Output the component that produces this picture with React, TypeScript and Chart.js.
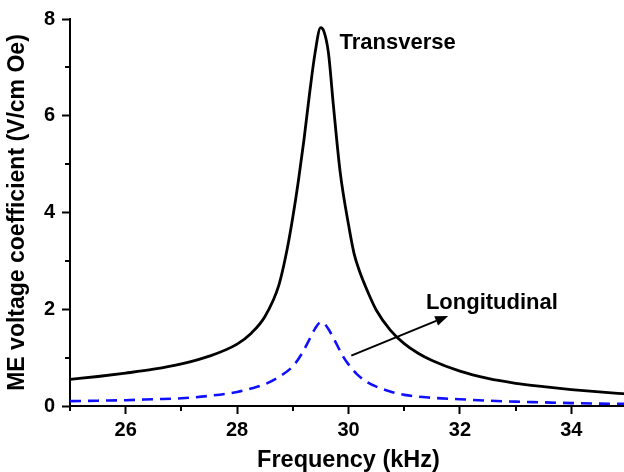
import React, { useEffect, useRef } from 'react';
import { Chart, registerables } from 'chart.js';

Chart.register(...registerables);

// ---- data ----
const transverseFreq = [25, 25.5, 26, 26.5, 27, 27.5, 28, 28.25, 28.5, 28.75, 28.9, 29.0, 29.1, 29.2, 29.3, 29.4, 29.5, 29.56, 29.64, 29.73, 29.85, 30.0, 30.1, 30.2, 30.35, 30.5, 30.75, 31.0, 31.25, 31.5, 32.0, 32.5, 33.0, 33.5, 34.0, 34.5, 35.0];
const transverseValues = [0.55, 0.61, 0.68, 0.76, 0.87, 1.03, 1.28, 1.5, 1.85, 2.5, 3.25, 3.9, 4.65, 5.5, 6.45, 7.3, 7.82, 7.74, 7.3, 6.2, 4.84, 3.75, 3.15, 2.78, 2.35, 1.98, 1.57, 1.29, 1.09, 0.94, 0.72, 0.57, 0.47, 0.40, 0.34, 0.29, 0.25];

const longitudinalFreq = [25, 25.5, 26, 26.5, 27, 27.5, 28, 28.25, 28.5, 28.75, 29.0, 29.15, 29.3, 29.4, 29.5, 29.56, 29.65, 29.75, 29.9, 30.0, 30.15, 30.3, 30.5, 30.75, 31.0, 31.5, 32.0, 32.5, 33.0, 33.5, 34.0, 34.5, 35.0];
const longitudinalValues = [0.10, 0.11, 0.12, 0.14, 0.16, 0.21, 0.29, 0.36, 0.45, 0.6, 0.82, 1.06, 1.38, 1.6, 1.73, 1.71, 1.57, 1.36, 1.03, 0.86, 0.66, 0.52, 0.4, 0.3, 0.23, 0.17, 0.14, 0.11, 0.09, 0.075, 0.06, 0.05, 0.045];

const xMajorTicks = [26, 28, 30, 32, 34];
const yMajorTicks = [0, 2, 4, 6, 8];
const xMinorTicks = [25, 27, 29, 31, 33, 35];
const yMinorTicks = [1, 3, 5, 7];

const xTitle = 'Frequency (kHz)';
const yTitle = 'ME voltage coefficient (V/cm Oe)';
const transverseLabel = 'Transverse';
const transverseLabelAt = [29.84, 7.39];
const longitudinalLabel = 'Longitudinal';
const longitudinalLabelAt = [31.39, 2.0];
const arrowFrom = [30.05, 1.04];
const arrowTo = [31.79, 1.86];

const FONT = "'Liberation Sans', Arial, Helvetica, sans-serif";

const extrasPlugin = {
  id: 'extras',
  afterDraw(chart: any) {
    const ctx = chart.ctx;
    const xs = chart.scales.x;
    const ys = chart.scales.y;
    const area = chart.chartArea;
    ctx.save();
    // minor ticks
    ctx.strokeStyle = '#000';
    ctx.lineWidth = 2;
    ctx.beginPath();
    for (const v of yMinorTicks) {
      const py = Math.round(ys.getPixelForValue(v));
      ctx.moveTo(area.left - 5, py);
      ctx.lineTo(area.left, py);
    }
    for (const v of xMinorTicks) {
      const px = Math.round(xs.getPixelForValue(v));
      ctx.moveTo(px, area.bottom);
      ctx.lineTo(px, area.bottom + 5);
    }
    ctx.stroke();

    // labels
    ctx.fillStyle = '#000';
    ctx.font = `bold 22px ${FONT}`;
    ctx.textAlign = 'left';
    ctx.textBaseline = 'alphabetic';
    ctx.fillText(transverseLabel, xs.getPixelForValue(transverseLabelAt[0]), ys.getPixelForValue(transverseLabelAt[1]));
    ctx.fillText(longitudinalLabel, xs.getPixelForValue(longitudinalLabelAt[0]), ys.getPixelForValue(longitudinalLabelAt[1]));

    // arrow
    const x0 = xs.getPixelForValue(arrowFrom[0]);
    const y0 = ys.getPixelForValue(arrowFrom[1]);
    const x1 = xs.getPixelForValue(arrowTo[0]);
    const y1 = ys.getPixelForValue(arrowTo[1]);
    const ang = Math.atan2(y1 - y0, x1 - x0);
    const headLen = 13;
    const headW = 5;
    const bx = x1 - headLen * Math.cos(ang);
    const by = y1 - headLen * Math.sin(ang);
    ctx.lineWidth = 2;
    ctx.beginPath();
    ctx.moveTo(x0, y0);
    ctx.lineTo(bx, by);
    ctx.stroke();
    ctx.beginPath();
    ctx.moveTo(x1, y1);
    ctx.lineTo(bx + headW * Math.sin(ang), by - headW * Math.cos(ang));
    ctx.lineTo(bx - headW * Math.sin(ang), by + headW * Math.cos(ang));
    ctx.closePath();
    ctx.fill();
    ctx.restore();
  },
};

export default function App() {
  const ref = useRef<HTMLCanvasElement>(null);
  useEffect(() => {
    document.body.style.margin = '0';
    const canvas = ref.current;
    if (!canvas) return;
    const chart = new Chart(canvas, {
      type: 'line',
      data: {
        datasets: [
          {
            label: 'Transverse',
            data: transverseFreq.map((f, i) => ({ x: f, y: transverseValues[i] })),
            borderColor: '#000000',
            borderWidth: 2.8,
            pointRadius: 0,
            fill: false,
            cubicInterpolationMode: 'monotone',
          },
          {
            label: 'Longitudinal',
            data: longitudinalFreq.map((f, i) => ({ x: f, y: longitudinalValues[i] })),
            borderColor: '#1010ff',
            borderWidth: 2.6,
            borderDash: [11, 7],
            pointRadius: 0,
            fill: false,
            cubicInterpolationMode: 'monotone',
          },
        ],
      },
      options: {
        animation: false,
        responsive: false,
        events: [],
        layout: { padding: { top: 14, right: 1, left: 0, bottom: 0 } },
        plugins: { legend: { display: false }, tooltip: { enabled: false } },
        scales: {
          x: {
            type: 'linear',
            min: 25,
            max: 35,
            afterFit(scale: any) { scale.height = 66; },
            afterBuildTicks(scale: any) { scale.ticks = xMajorTicks.map((v) => ({ value: v })); },
            ticks: {
              color: '#000',
              font: { family: FONT, size: 20, weight: 'bold' },
              padding: 4,
              maxRotation: 0,
              autoSkip: false,
              callback: (v: any) => String(v),
            },
            grid: { drawOnChartArea: false, drawTicks: true, tickLength: 8, tickWidth: 2, tickColor: '#000' },
            border: { display: true, color: '#000', width: 2 },
            title: {
              display: true,
              text: xTitle,
              color: '#000',
              font: { family: FONT, size: 23.5, weight: 'bold', lineHeight: 1 },
              padding: { top: 0, bottom: 0 },
            },
          },
          y: {
            type: 'linear',
            min: 0,
            max: 8,
            afterFit(scale: any) { scale.width = 70; },
            afterBuildTicks(scale: any) { scale.ticks = yMajorTicks.map((v) => ({ value: v })); },
            ticks: {
              color: '#000',
              font: { family: FONT, size: 20, weight: 'bold' },
              padding: 7,
              autoSkip: false,
              callback: (v: any) => String(v),
            },
            grid: { drawOnChartArea: false, drawTicks: true, tickLength: 8, tickWidth: 2, tickColor: '#000' },
            border: { display: true, color: '#000', width: 2 },
            title: {
              display: true,
              text: yTitle,
              color: '#000',
              font: { family: FONT, size: 23, weight: 'bold', lineHeight: 1 },
              padding: { top: 6, bottom: 0 },
            },
          },
        },
      },
      plugins: [extrasPlugin],
    } as any);
    return () => chart.destroy();
  }, []);
  return (
    <div style={{ width: 624, height: 472, overflow: 'hidden', position: 'relative' }}>
      <canvas ref={ref} width={628} height={472} style={{ display: 'block', width: 628, height: 472 }} />
    </div>
  );
}
